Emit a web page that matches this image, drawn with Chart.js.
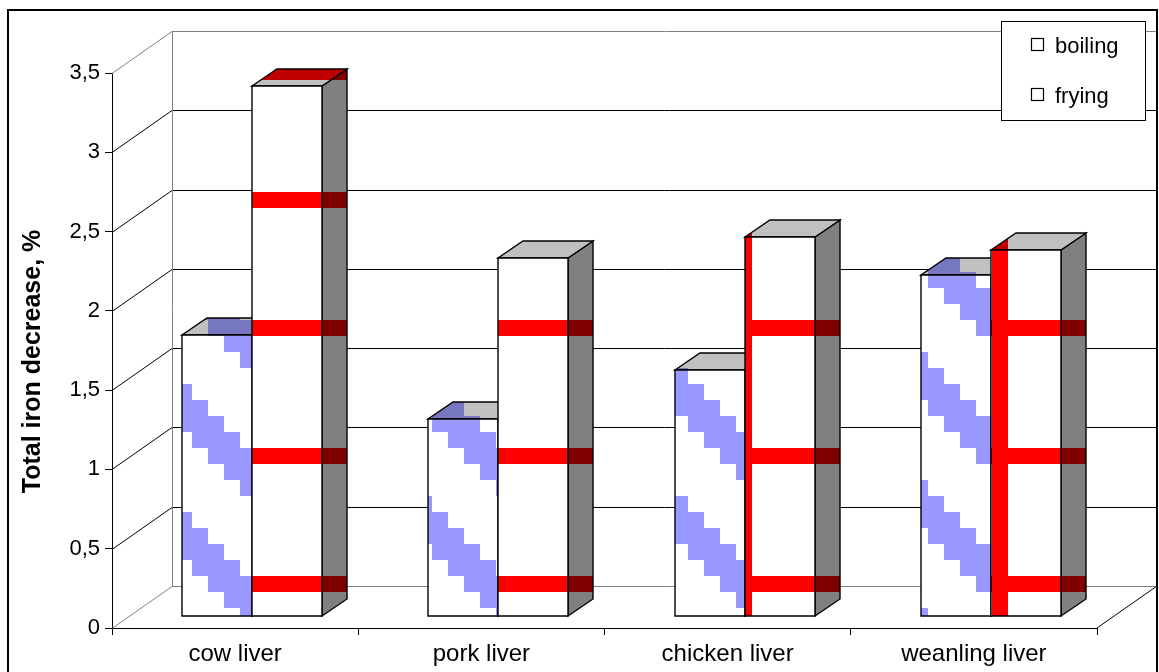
<!DOCTYPE html>
<html>
<head>
<meta charset="utf-8">
<title>Total iron decrease</title>
<script src="https://cdn.jsdelivr.net/npm/chart.js"></script>
<style>
  html, body { margin: 0; padding: 0; background: #fff; }
  canvas { display: block; }
</style>
</head>
<body>
<canvas id="chart" width="1159" height="672"></canvas>
<script>
// ---- data ----
const categories = ['cow liver', 'pork liver', 'chicken liver', 'weanling liver'];
const seriesNames = ['boiling', 'frying'];
const boiling = [1.77, 1.24, 1.55, 2.15];
const frying = [3.34, 2.26, 2.39, 2.31];
const yTicks = [0, 0.5, 1, 1.5, 2, 2.5, 3, 3.5];
const yTitle = 'Total iron decrease, %';

// ---- 3-D projection (pixels) ----
const WALL = { dx: 60, dy: -42 };       // front plane -> back wall
const BAR_PLANE = { dx: 17, dy: -12 };  // front plane -> bar front faces
const BAR_DEPTH = { dx: 25, dy: -17 };  // bar front face -> bar back face

const FONT = 'Liberation Sans';
const canvas = document.getElementById('chart');
const ctx = canvas.getContext('2d');

// 8x8 cell fill patterns, 16 px per cell, anchored to the canvas origin
const CELL = 16;
function makePattern(bg, fg, test) {
  const t = document.createElement('canvas');
  t.width = t.height = CELL * 8;
  const g = t.getContext('2d');
  g.fillStyle = bg;
  g.fillRect(0, 0, t.width, t.height);
  g.fillStyle = fg;
  for (let r = 0; r < 8; r++) {
    for (let c = 0; c < 8; c++) {
      if (test(c, r)) g.fillRect(c * CELL, r * CELL, CELL, CELL);
    }
  }
  return ctx.createPattern(t, 'repeat');
}
const stairs = (c, r) => ((((r - c + 3) % 8) + 8) % 8) < 3;
const gridCells = (c, r) => r === 4 || c === 6;

const faceFills = [
  {
    front: makePattern('#ffffff', '#9999ff', stairs),
    top: makePattern('#c0c0c0', '#7777bf', stairs),
    side: makePattern('#808080', '#4d4d80', stairs)
  },
  {
    front: makePattern('#ffffff', '#ff0000', gridCells),
    top: makePattern('#c0c0c0', '#c00000', gridCells),
    side: makePattern('#808080', '#800000', gridCells)
  }
];

function line(c, pts, color, width) {
  c.beginPath();
  c.moveTo(pts[0][0], pts[0][1]);
  for (let i = 1; i < pts.length; i++) c.lineTo(pts[i][0], pts[i][1]);
  c.strokeStyle = color;
  c.lineWidth = width || 1;
  c.stroke();
}

function poly(c, pts, fill) {
  c.beginPath();
  c.moveTo(pts[0][0], pts[0][1]);
  for (let i = 1; i < pts.length; i++) c.lineTo(pts[i][0], pts[i][1]);
  c.closePath();
  c.fillStyle = fill;
  c.fill();
  c.strokeStyle = '#000';
  c.lineWidth = 1.4;
  c.lineJoin = 'miter';
  c.stroke();
}

// back wall, side wall and floor
const wallsPlugin = {
  id: 'walls',
  beforeDatasetsDraw(chart) {
    const c = chart.ctx;
    const a = chart.chartArea;
    const y = chart.scales.y;
    const L = a.left, R = a.right;
    const y0 = y.getPixelForValue(0);
    const yMax = y.getPixelForValue(yTicks[yTicks.length - 1]);
    c.save();
    yTicks.forEach((v, i) => {
      const py = Math.round(y.getPixelForValue(v)) + 0.5;
      const edge = i === 0 || i === yTicks.length - 1;
      const col = edge ? '#808080' : '#000';
      line(c, [[L, py], [L + WALL.dx, py + WALL.dy], [R + WALL.dx, py + WALL.dy]], col, 1);
    });
    line(c, [[L + WALL.dx + 0.5, yMax + WALL.dy], [L + WALL.dx + 0.5, y0 + WALL.dy]], '#808080', 1);
    line(c, [[R, y0], [R + WALL.dx, y0 + WALL.dy]], '#000', 1);
    c.restore();
  }
};

// 3-D bars built on the bar elements laid out by the category/linear scales
const bars3dPlugin = {
  id: 'bars3d',
  afterDatasetsDraw(chart) {
    const c = chart.ctx;
    c.save();
    const n = categories.length;
    for (let i = 0; i < n; i++) {
      chart.data.datasets.forEach((ds, d) => {
        const el = chart.getDatasetMeta(d).data[i];
        const p = el.getProps(['x', 'y', 'base', 'width'], true);
        const x0 = Math.round(p.x - p.width / 2 + BAR_PLANE.dx);
        const x1 = Math.round(p.x + p.width / 2 + BAR_PLANE.dx);
        const yt = Math.round(p.y + BAR_PLANE.dy);
        const yb = Math.round(p.base + BAR_PLANE.dy);
        const f = faceFills[d];
        const dx = BAR_DEPTH.dx, dy = BAR_DEPTH.dy;
        poly(c, [[x1, yt], [x1 + dx, yt + dy], [x1 + dx, yb + dy], [x1, yb]], f.side);
        poly(c, [[x0, yt], [x1, yt], [x1 + dx, yt + dy], [x0 + dx, yt + dy]], f.top);
        poly(c, [[x0, yt], [x1, yt], [x1, yb], [x0, yb]], f.front);
      });
    }
    c.restore();
  }
};

// frame, axis title and legend box
const framePlugin = {
  id: 'frame',
  afterDraw(chart) {
    const c = chart.ctx;
    const a = chart.chartArea;
    c.save();
    // axis title
    c.translate(33, (a.top + a.bottom) / 2 + 11);
    c.rotate(-Math.PI / 2);
    c.font = 'bold 25px "' + FONT + '"';
    c.fillStyle = '#000';
    c.textAlign = 'center';
    c.textBaseline = 'middle';
    c.fillText(yTitle, 0, 0);
    c.restore();

    c.save();
    // legend
    const lx = 1001, ly = 21, lw = 144, lh = 99;
    c.fillStyle = '#fff';
    c.fillRect(lx, ly, lw, lh);
    c.strokeStyle = '#000';
    c.lineWidth = 1;
    c.strokeRect(lx + 0.5, ly + 0.5, lw, lh);
    c.font = '22px "' + FONT + '"';
    c.textAlign = 'left';
    c.textBaseline = 'alphabetic';
    seriesNames.forEach((name, k) => {
      const sy = 38 + k * 50;
      c.fillStyle = '#fff';
      c.fillRect(1031, sy, 13, 13);
      c.strokeStyle = '#000';
      c.lineWidth = 1.2;
      c.strokeRect(1031.5, sy + 0.5, 12, 12);
      c.fillStyle = '#000';
      c.fillText(name, 1055, sy + 14.5);
    });
    // outer frame
    c.strokeStyle = '#000';
    c.lineWidth = 2;
    c.strokeRect(8, 10, 1149, 700);
    c.restore();
  }
};

new Chart(ctx, {
  type: 'bar',
  data: {
    labels: categories,
    datasets: [
      { label: seriesNames[0], data: boiling },
      { label: seriesNames[1], data: frying }
    ].map(ds => Object.assign(ds, {
      backgroundColor: 'rgba(0,0,0,0)',
      borderWidth: 0,
      categoryPercentage: 0.5685,
      barPercentage: 1
    }))
  },
  options: {
    responsive: false,
    animation: false,
    events: [],
    devicePixelRatio: 1,
    layout: { padding: { top: 73, right: 62, left: 0, bottom: 0 } },
    plugins: {
      legend: { display: false },
      tooltip: { enabled: false }
    },
    scales: {
      x: {
        afterFit(scale) { scale.height = 44; },
        grid: {
          offset: true,
          drawOnChartArea: false,
          drawTicks: true,
          tickLength: 7,
          tickColor: '#000'
        },
        border: { display: true, color: '#000', width: 1 },
        ticks: {
          color: '#000',
          font: { family: FONT, size: 24 },
          padding: 5,
          maxRotation: 0,
          autoSkip: false
        }
      },
      y: {
        min: 0,
        max: 3.5,
        afterFit(scale) { scale.width = 112; },
        afterBuildTicks(scale) { scale.ticks = yTicks.map(v => ({ value: v })); },
        grid: {
          drawOnChartArea: false,
          drawTicks: true,
          tickLength: 7,
          tickColor: '#000'
        },
        border: { display: true, color: '#000', width: 1 },
        ticks: {
          color: '#000',
          font: { family: FONT, size: 22 },
          padding: 5,
          callback: v => String(v).replace('.', ',')
        }
      }
    }
  },
  plugins: [wallsPlugin, bars3dPlugin, framePlugin]
});
</script>
</body>
</html>
